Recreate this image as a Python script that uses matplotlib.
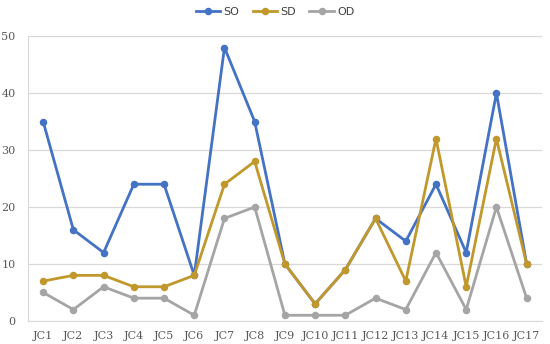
import matplotlib
matplotlib.use("Agg")
import matplotlib.pyplot as plt

categories = ["JC1", "JC2", "JC3", "JC4", "JC5", "JC6", "JC7", "JC8", "JC9",
              "JC10", "JC11", "JC12", "JC13", "JC14", "JC15", "JC16", "JC17"]
so = [35, 16, 12, 24, 24, 8, 48, 35, 10, 3, 9, 18, 14, 24, 12, 40, 10]
sd = [7, 8, 8, 6, 6, 8, 24, 28, 10, 3, 9, 18, 7, 32, 6, 32, 10]
od = [5, 2, 6, 4, 4, 1, 18, 20, 1, 1, 1, 4, 2, 12, 2, 20, 4]
yticks = [0, 10, 20, 30, 40, 50]

colors = {"SO": "#4472C4", "SD": "#C0982C", "OD": "#A5A5A5"}

fig = plt.figure(figsize=(5.5, 3.44), dpi=100)
ax = fig.add_axes([0.051, 0.067, 0.934, 0.828])

x = list(range(1, len(categories) + 1))
for name, vals in [("SO", so), ("SD", sd), ("OD", od)]:
    ax.plot(x, vals, color=colors[name], lw=2.0, marker="o", markersize=4.4,
            label=name, solid_joinstyle="round")

ax.set_xlim(0.5, len(categories) + 0.5)
ax.set_ylim(0, 50)
ax.set_yticks(yticks)
ax.set_xticks(x)
ax.set_xticklabels(categories)
ax.grid(axis="y", color="#D9D9D9", lw=0.9)
ax.set_axisbelow(True)
for s in ["top", "right"]:
    ax.spines[s].set_visible(False)
ax.spines["left"].set_color("#D9D9D9")
ax.spines["bottom"].set_color("#D9D9D9")
ax.tick_params(axis="y", length=0, colors="#595959", pad=9)
ax.tick_params(axis="x", length=0, colors="#595959", pad=7)
for lab in ax.get_xticklabels() + ax.get_yticklabels():
    lab.set_family("DejaVu Serif")
    lab.set_fontsize(8)

leg = fig.legend(loc="upper center", bbox_to_anchor=(0.5, 1.01), ncol=3,
                 frameon=False, fontsize=8, handlelength=2.2, columnspacing=1.2,
                 handletextpad=0.3)
for t in leg.get_texts():
    t.set_color("#404040")

fig.savefig("out.png", dpi=100)
